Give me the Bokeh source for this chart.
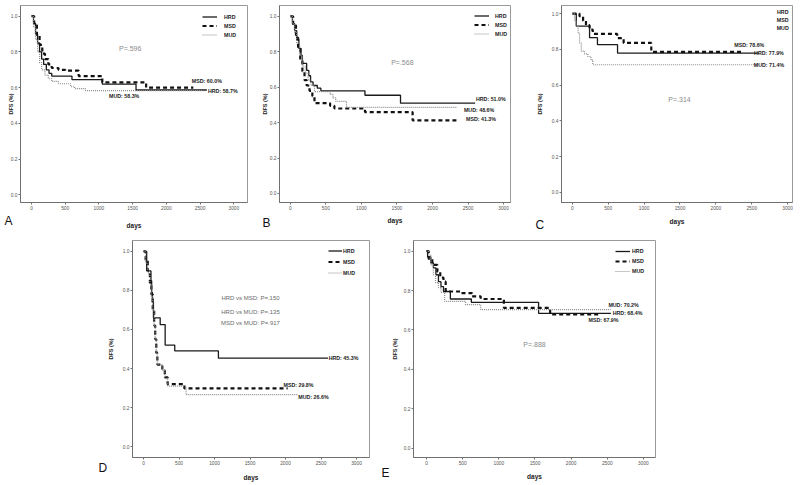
import math
from bokeh.plotting import figure
from bokeh.models import Range1d, FixedTicker, PrintfTickFormatter, Label, Legend, LegendItem, Spacer, Title
from bokeh.layouts import row, column
from bokeh.embed import file_html
from bokeh.resources import INLINE

# ---------------- data (days, DFS) ----------------
X_TICKS = [0, 500, 1000, 1500, 2000, 2500, 3000]
Y_TICKS = [0.0, 0.2, 0.4, 0.6, 0.8, 1.0]
GROUPS = ["HRD", "MSD", "MUD"]

A_HRD_t = [0, 30, 60, 90, 120, 150, 180, 220, 260, 300, 600, 1050, 1550, 2600]
A_HRD_s = [1.0, 0.96, 0.90, 0.85, 0.80, 0.76, 0.73, 0.70, 0.68, 0.665, 0.645, 0.62, 0.587, 0.587]
A_MSD_t = [0, 40, 80, 120, 160, 200, 250, 300, 400, 500, 700, 1050, 1700, 2400]
A_MSD_s = [1.0, 0.95, 0.89, 0.84, 0.79, 0.76, 0.73, 0.71, 0.70, 0.695, 0.665, 0.63, 0.60, 0.60]
A_MUD_t = [0, 30, 60, 90, 120, 150, 200, 250, 300, 400, 580, 640, 800, 2550]
A_MUD_s = [1.0, 0.94, 0.87, 0.80, 0.74, 0.70, 0.67, 0.65, 0.635, 0.622, 0.605, 0.595, 0.583, 0.583]

B_HRD_t = [0, 30, 60, 90, 120, 150, 170, 230, 260, 285, 320, 380, 430, 1050, 1550, 2600]
B_HRD_s = [1.0, 0.96, 0.92, 0.87, 0.82, 0.78, 0.735, 0.695, 0.665, 0.63, 0.61, 0.595, 0.58, 0.555, 0.51, 0.51]
B_MSD_t = [0, 40, 80, 110, 140, 170, 200, 230, 270, 310, 340, 560, 620, 1050, 1720, 2350]
B_MSD_s = [1.0, 0.95, 0.88, 0.82, 0.75, 0.69, 0.64, 0.61, 0.58, 0.55, 0.51, 0.495, 0.48, 0.46, 0.413, 0.413]
B_MUD_t = [0, 30, 60, 90, 130, 170, 210, 250, 290, 340, 560, 600, 640, 790, 2350]
B_MUD_s = [1.0, 0.96, 0.91, 0.85, 0.78, 0.72, 0.68, 0.64, 0.61, 0.575, 0.56, 0.54, 0.52, 0.486, 0.486]

C_HRD_t = [0, 55, 240, 350, 630, 2600]
C_HRD_s = [1.0, 0.93, 0.865, 0.826, 0.779, 0.779]
C_MSD_t = [0, 100, 150, 190, 240, 285, 625, 715, 1100, 2350]
C_MSD_s = [1.0, 0.985, 0.96, 0.935, 0.91, 0.886, 0.863, 0.836, 0.786, 0.786]
C_MUD_t = [0, 30, 55, 80, 100, 125, 170, 215, 260, 285, 2600]
C_MUD_s = [1.0, 0.96, 0.93, 0.89, 0.835, 0.79, 0.775, 0.76, 0.74, 0.714, 0.714]

D_HRD_t = [0, 45, 105, 115, 125, 140, 235, 305, 440, 1055, 2600]
D_HRD_s = [1.0, 0.90, 0.85, 0.79, 0.74, 0.66, 0.625, 0.52, 0.49, 0.453, 0.453]
D_MSD_t = [0, 30, 60, 90, 110, 130, 150, 165, 180, 195, 265, 300, 340, 575, 2030]
D_MSD_s = [1.0, 0.95, 0.90, 0.84, 0.78, 0.70, 0.62, 0.55, 0.48, 0.42, 0.39, 0.355, 0.32, 0.298, 0.298]
D_MUD_t = [0, 30, 60, 90, 110, 130, 150, 165, 180, 195, 265, 300, 340, 600, 2170]
D_MUD_s = [1.0, 0.94, 0.89, 0.83, 0.77, 0.70, 0.62, 0.55, 0.48, 0.42, 0.39, 0.35, 0.31, 0.266, 0.266]

E_HRD_t = [0, 15, 60, 95, 130, 165, 200, 235, 330, 620, 1550, 2550]
E_HRD_s = [1.0, 0.97, 0.94, 0.915, 0.88, 0.845, 0.82, 0.795, 0.757, 0.74, 0.684, 0.684]
E_MSD_t = [0, 30, 80, 150, 190, 235, 265, 470, 630, 750, 1070, 1710, 2380]
E_MSD_s = [1.0, 0.96, 0.93, 0.895, 0.865, 0.845, 0.795, 0.787, 0.77, 0.757, 0.712, 0.679, 0.679]
E_MUD_t = [0, 30, 60, 95, 125, 165, 200, 250, 540, 750, 2545]
E_MUD_s = [1.0, 0.98, 0.93, 0.88, 0.84, 0.815, 0.79, 0.745, 0.728, 0.703, 0.703]

A_END = ["HRD: 58.7%", "MSD: 60.0%", "MUD: 58.3%"]
B_END = ["HRD: 51.0%", "MSD: 41.3%", "MUD: 48.6%"]
C_END = ["HRD: 77.9%", "MSD: 78.6%", "MUD: 71.4%"]
D_END = ["HRD: 45.3%", "MSD: 29.8%", "MUD: 26.6%"]
E_END = ["HRD: 68.4%", "MSD: 67.9%", "MUD: 70.2%"]

# ---------------- style ----------------
SANS = "Liberation Sans"
STYLE = {
    "HRD": dict(line_color="#1a1a1a", line_width=1.3, line_dash="solid"),
    "MSD": dict(line_color="#111111", line_width=2.2, line_dash="4 3"),
    "MUD": dict(line_color="#8c8c8c", line_width=1.2, line_dash="1 1"),
}


def make_panel(w, h, bl, br, bt, bb, xr, yr, ylab_standoff, xlab_standoff):
    p = figure(width=w, height=h, x_range=Range1d(*xr), y_range=Range1d(*yr),
               output_backend="svg", toolbar_location=None,
               min_border_left=bl, min_border_right=br, min_border_top=bt, min_border_bottom=bb)
    p.xgrid.visible = False
    p.ygrid.visible = False
    p.background_fill_color = "white"
    p.border_fill_color = "white"
    p.outline_line_color = "#9a9a9a"
    p.outline_line_width = 1
    for ax in (p.xaxis[0], p.yaxis[0]):
        ax.axis_line_color = "#707070"
        ax.major_tick_line_color = "#707070"
        ax.major_tick_out = 2
        ax.major_tick_in = 0
        ax.minor_tick_line_color = None
        ax.major_label_text_font = SANS
        ax.major_label_text_font_size = "4.8px"
        ax.major_label_text_color = "#555555"
        ax.major_label_standoff = 1
        ax.axis_label_text_font = SANS
        ax.axis_label_text_font_style = "bold"
        ax.axis_label_text_color = "#222222"
    p.xaxis.ticker = FixedTicker(ticks=X_TICKS)
    p.yaxis.ticker = FixedTicker(ticks=Y_TICKS)
    p.yaxis.formatter = PrintfTickFormatter(format="%.1f")
    p.xaxis.axis_label = "days"
    p.xaxis.axis_label_text_font_size = "6.5px"
    p.xaxis.axis_label_standoff = xlab_standoff
    p.yaxis.axis_label = "DFS (%)"
    p.yaxis.axis_label_text_font_size = "5.5px"
    p.yaxis.axis_label_standoff = ylab_standoff
    return p


def curves(p, series):
    rs = {}
    for g, (t, s) in zip(GROUPS, series):
        rs[g] = p.step(t, s, mode="after", **STYLE[g])
    return rs


def txt(p, x, y, text, size="5.3px", bold=True, color="#222222", align="center"):
    p.add_layout(Label(x=x, y=y, text=text, text_font=SANS, text_font_size=size,
                       text_font_style="bold" if bold else "normal", text_color=color,
                       text_align=align, text_baseline="middle"))


def letter(p, text, offset, standoff):
    kw = dict(text=text, align="left", offset=offset, vertical_align="top",
              text_font=SANS, text_font_size="12px", text_font_style="normal", text_color="#111111")
    try:
        t = Title(standoff=standoff, **kw)
    except Exception:
        t = Title(**kw)
    p.add_layout(t, "below")


def legend(p, rs, vx, vy, row_h, standoff, glyph_w=15):
    items = [LegendItem(label=g, renderers=[rs[g]]) for g in GROUPS]
    lg = Legend(items=items, location=(vx, vy), orientation="vertical",
                padding=0, margin=0, spacing=0, label_height=row_h, glyph_height=row_h,
                glyph_width=glyph_w, label_standoff=standoff,
                label_text_font=SANS, label_text_font_size="5.3px", label_text_font_style="bold",
                label_text_color="#222222", border_line_alpha=0, background_fill_alpha=0)
    p.add_layout(lg)


P_STYLE = dict(size="7px", bold=False, color="#8a8a8a")

# ---------------- Panel A ----------------
pA = make_panel(258, 236, 20, 11, 5, 28, (-163, 3203), (-0.043, 1.060), -6, 9)
rA = curves(pA, [(A_HRD_t, A_HRD_s), (A_MSD_t, A_MSD_s), (A_MUD_t, A_MUD_s)])
legend(pA, rA, 182, 163, 9, 7)
txt(pA, 2837, 0.58, A_END[0])
txt(pA, 2600, 0.636, A_END[1])
txt(pA, 1374, 0.554, A_END[2])
txt(pA, 1463, 0.82, "P=.596", **P_STYLE)
letter(pA, "A", -16, -36)

# ---------------- Panel B ----------------
pB = make_panel(275, 236, 17, 23, 5, 34, (-152, 3097), (-0.051, 1.062), -1, 4)
rB = curves(pB, [(B_HRD_t, B_HRD_s), (B_MSD_t, B_MSD_s), (B_MUD_t, B_MUD_s)])
legend(pB, rB, 195, 164, 9, 6)
txt(pB, 2820, 0.532, B_END[0])
txt(pB, 2682, 0.419, B_END[1])
txt(pB, 2655, 0.470, B_END[2])
txt(pB, 1576, 0.741, "P=.568", **P_STYLE)
letter(pB, "B", -17, -22)

# ---------------- Panel C ----------------
pC = make_panel(267, 236, 24, 8, 5, 34, (-151, 3068), (-0.056, 1.045), 6, 5)
rC = curves(pC, [(C_HRD_t, C_HRD_s), (C_MSD_t, C_MSD_s), (C_MUD_t, C_MUD_s)])
for g, yy in zip(GROUPS, [1.011, 0.966, 0.922]):
    txt(pC, 2932, yy, g)
txt(pC, 2740, 0.777, C_END[0])
txt(pC, 2466, 0.827, C_END[1])
txt(pC, 2740, 0.715, C_END[2])
txt(pC, 1493, 0.52, "P=.314", **P_STYLE)
letter(pC, "C", -26, -20)

# ---------------- Panel D ----------------
pD = make_panel(288, 248, 42, 9, 3, 27, (-155, 3183), (-0.056, 1.056), 6, 6)
rD = curves(pD, [(D_HRD_t, D_HRD_s), (D_MSD_t, D_MSD_s), (D_MUD_t, D_MUD_s)])
legend(pD, rD, 196, 179, 11, 1, glyph_w=14)
txt(pD, 2817, 0.454, D_END[0])
txt(pD, 2183, 0.316, D_END[1])
txt(pD, 2394, 0.255, D_END[2])
for yy, t in zip([0.76, 0.689, 0.633], ["HRD vs MSD: P=.150", "HRD vs MUD: P=.135", "MSD vs MUD: P=.917"]):
    txt(pD, 1507, yy, t, size="6px", bold=False, color="#6a6a6a")
letter(pD, "D", -34, -46)

# ---------------- Panel E ----------------
pE = make_panel(422, 248, 35, 145, 4, 24, (-180, 3167), (-0.0465, 1.0535), 3, 5)
rE = curves(pE, [(E_HRD_t, E_HRD_s), (E_MSD_t, E_MSD_s), (E_MUD_t, E_MUD_s)])
legend(pE, rE, 202, 181, 10, 2)
txt(pE, 2780, 0.685, E_END[0])
txt(pE, 2448, 0.65, E_END[1])
txt(pE, 2725, 0.725, E_END[2])
txt(pE, 1494, 0.525, "P=.888", **P_STYLE)
letter(pE, "E", -32, -34)

layout = column(row(pA, pB, pC), row(Spacer(width=90, height=248), pD, pE))

open("out.html", "w").write(file_html(layout, INLINE))
